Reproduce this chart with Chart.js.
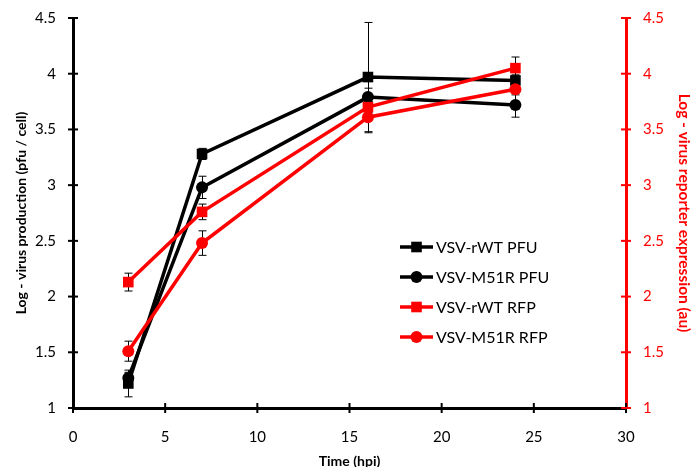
<!DOCTYPE html>
<html>
<head>
<meta charset="utf-8">
<script src="https://cdn.jsdelivr.net/npm/chart.js@4.4.1/dist/chart.umd.min.js"></script>
<style>
  html, body { margin: 0; padding: 0; background: #fff; }
  #wrap { width: 693px; height: 467px; position: relative; }
</style>
</head>
<body>
<div id="wrap"><canvas id="chart"></canvas></div>
<script>
// data
const hpi = [3, 7, 16, 24];
const rwtPfu = [1.22, 3.28, 3.97, 3.94];
const m51rPfu = [1.27, 2.98, 3.79, 3.72];
const rwtRfp = [2.13, 2.76, 3.70, 4.05];
const m51rRfp = [1.51, 2.48, 3.61, 3.86];
// error bars (+/-)
const rwtPfuErr = [0.12, 0.05, 0.49, 0.05];
const m51rPfuErr = [0.05, 0.10, 0.08, 0.11];
const rwtRfpErr = [0.08, 0.07, 0.05, 0.10];
const m51rRfpErr = [0.09, 0.11, 0.14, 0.05];

const xTicks = [0, 5, 10, 15, 20, 25, 30];
const yTicks = [1, 1.5, 2, 2.5, 3, 3.5, 4, 4.5];

const FONT = 'Lato, "Open Sans", sans-serif';
const RED = '#ff0000';

function pts(ys) {
	return hpi.map(function(x, i) { return { x: x, y: ys[i] }; });
}

function series(label, ys, errs, color, style, axis, order) {
	return {
		label: label,
		data: pts(ys),
		errors: errs,
		yAxisID: axis,
		borderColor: color,
		backgroundColor: color,
		borderWidth: 3.5,
		pointStyle: style,
		pointRadius: style === 'rect' ? 7.5 : 6,
		pointBorderWidth: 0,
		showLine: true,
		tension: 0,
		order: order
	};
}

// error bars, drawn under the markers
const errorBars = {
	id: 'errorBars',
	beforeDatasetsDraw(chart) {
		const ctx = chart.ctx;
		const xs = chart.scales.x;
		ctx.save();
		ctx.strokeStyle = '#000';
		ctx.lineWidth = 1;
		chart.data.datasets.forEach(function(ds) {
			const ys = chart.scales[ds.yAxisID];
			ds.data.forEach(function(p, i) {
				const e = ds.errors[i];
				const px = Math.round(xs.getPixelForValue(p.x)) + 0.5;
				const top = ys.getPixelForValue(p.y + e);
				const bot = ys.getPixelForValue(p.y - e);
				ctx.beginPath();
				ctx.moveTo(px, top); ctx.lineTo(px, bot);
				ctx.moveTo(px - 4, top); ctx.lineTo(px + 4, top);
				ctx.moveTo(px - 4, bot); ctx.lineTo(px + 4, bot);
				ctx.stroke();
			});
		});
		ctx.restore();
	}
};

// cross tick marks like the original axes
const crossTicks = {
	id: 'crossTicks',
	afterDraw(chart) {
		const ctx = chart.ctx;
		const a = chart.chartArea;
		ctx.save();
		ctx.lineWidth = 2;
		ctx.strokeStyle = '#000';
		xTicks.forEach(function(v) {
			const px = chart.scales.x.getPixelForValue(v);
			ctx.beginPath(); ctx.moveTo(px, a.bottom - 5); ctx.lineTo(px, a.bottom + 5); ctx.stroke();
		});
		yTicks.forEach(function(v) {
			const py = chart.scales.y.getPixelForValue(v);
			ctx.beginPath(); ctx.moveTo(a.left - 5, py); ctx.lineTo(a.left + 5, py); ctx.stroke();
		});
		ctx.strokeStyle = RED;
		yTicks.forEach(function(v) {
			const py = chart.scales.y2.getPixelForValue(v);
			ctx.beginPath(); ctx.moveTo(a.right - 5, py); ctx.lineTo(a.right + 5, py); ctx.stroke();
		});
		ctx.restore();
	}
};

// legend inside the plot
const innerLegend = {
	id: 'innerLegend',
	afterDraw(chart) {
		const ctx = chart.ctx;
		const x0 = 400, x1 = 433, tx = 436;
		let y = 247;
		ctx.save();
		ctx.font = '16px ' + FONT;
		ctx.textBaseline = 'middle';
		chart.data.datasets.forEach(function(ds) {
			ctx.strokeStyle = ds.borderColor;
			ctx.fillStyle = ds.borderColor;
			ctx.lineWidth = 3.5;
			ctx.beginPath(); ctx.moveTo(x0, y); ctx.lineTo(x1, y); ctx.stroke();
			Chart.helpers.drawPoint(ctx, { pointStyle: ds.pointStyle, radius: ds.pointRadius, borderWidth: 0 }, (x0 + x1) / 2, y);
			ctx.fillStyle = '#000';
			ctx.fillText(ds.label, tx, y + 1);
			y += 30;
		});
		ctx.restore();
	}
};

const data = {
	datasets: [
		series('VSV-rWT PFU', rwtPfu, rwtPfuErr, '#000', 'rect', 'y', 2),
		series('VSV-M51R PFU', m51rPfu, m51rPfuErr, '#000', 'circle', 'y', 2),
		series('VSV-rWT RFP', rwtRfp, rwtRfpErr, RED, 'rect', 'y2', 1),
		series('VSV-M51R RFP', m51rRfp, m51rRfpErr, RED, 'circle', 'y2', 1)
	]
};

const yScale = function(pos, color, title, pad, size) {
	return {
		type: 'linear',
		position: pos,
		min: 1,
		max: 4.5,
		afterBuildTicks: function(s) { s.ticks = yTicks.map(function(v) { return { value: v }; }); },
		afterFit: function(s) { s.width = pos === 'left' ? 73 : 67; },
		border: { display: true, color: color, width: 3 },
		grid: { display: false },
		ticks: {
			color: color,
			padding: 9,
			font: { family: FONT, size: 15 },
			callback: function(v) { return v; }
		},
		title: {
			display: true,
			text: title,
			color: color,
			padding: { top: pad, bottom: 0 },
			font: { family: FONT, size: size, weight: 'bold' }
		}
	};
};

const config = {
	type: 'scatter',
	data: data,
	plugins: [errorBars, crossTicks, innerLegend],
	options: {
		responsive: true,
		maintainAspectRatio: false,
		animation: false,
		layout: { padding: { top: 17, left: 0, right: 0, bottom: 0 } },
		scales: {
			x: {
				type: 'linear',
				min: 0,
				max: 30,
				afterBuildTicks: function(s) { s.ticks = xTicks.map(function(v) { return { value: v }; }); },
				afterFit: function(s) { s.height = 59; },
				border: { display: true, color: '#000', width: 3 },
				grid: { display: false },
				ticks: {
					color: '#000',
					padding: 12,
					maxRotation: 0,
					font: { family: FONT, size: 15 }
				},
				title: {
					display: true,
					text: 'Time (hpi)',
					color: '#000',
					padding: { top: 0, bottom: -3 },
					font: { family: FONT, size: 14, weight: 'bold' }
				}
			},
			y: yScale('left', '#000', 'Log - virus production (pfu / cell)', 13, 14),
			y2: yScale('right', RED, 'Log - virus reporter expression (au)', 0, 15.5)
		},
		plugins: {
			legend: { display: false },
			tooltip: { enabled: false }
		}
	}
};

let ctx = document.getElementById('chart').getContext('2d');
let chart = new Chart(ctx, config);
</script>
</body>
</html>
